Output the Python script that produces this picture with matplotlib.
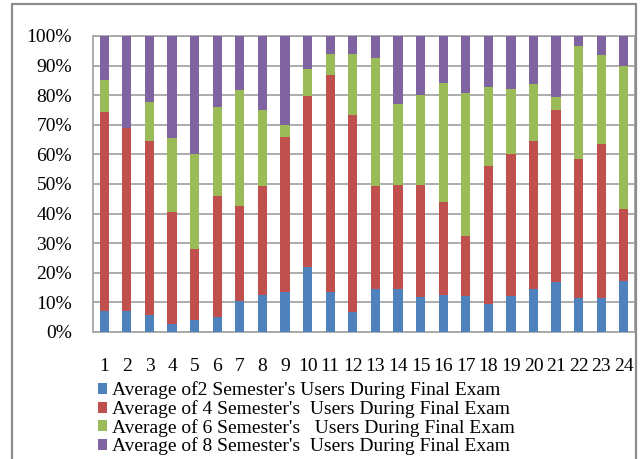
import matplotlib
matplotlib.use("Agg")
import matplotlib.pyplot as plt
from matplotlib.patches import Rectangle
import numpy as np

plt.rcParams['font.family'] = ['Liberation Serif', 'DejaVu Serif']

categories = [str(i) for i in range(1, 25)]

sem2 = [7.0, 7.0, 5.7, 2.8, 3.9, 5.1, 10.5, 12.5, 13.6, 21.8, 13.6, 6.6,
        14.4, 14.4, 11.7, 12.4, 12.2, 9.3, 12.2, 14.4, 16.8, 11.4, 11.4, 17.1]
sem4 = [67.3, 61.9, 58.8, 37.9, 24.3, 40.7, 32.2, 36.8, 52.2, 57.9, 73.2, 66.6,
        34.9, 35.3, 38.0, 31.4, 20.2, 46.7, 48.0, 50.1, 58.3, 46.9, 52.0, 24.3]
sem6 = [10.9, 0.0, 13.3, 25.0, 32.0, 30.1, 39.1, 25.8, 4.2, 9.0, 7.1, 20.7,
        43.4, 27.3, 30.5, 40.3, 48.2, 26.9, 21.9, 19.3, 4.2, 38.3, 30.1, 48.6]
sem8 = [14.8, 31.1, 22.2, 34.3, 39.8, 24.1, 18.2, 24.9, 30.0, 11.3, 6.1, 6.1,
        7.3, 23.0, 19.8, 15.9, 19.4, 17.1, 17.9, 16.2, 20.7, 3.4, 6.5, 10.0]

labels = [
    "Average of2 Semester's Users During Final Exam",
    "Average of 4 Semester's  Users During Final Exam",
    "Average of 6 Semester's   Users During Final Exam",
    "Average of 8 Semester's  Users During Final Exam",
]
colors = ["#4F81BD", "#C0504D", "#9BBB59", "#8064A2"]
y_ticks = [0, 10, 20, 30, 40, 50, 60, 70, 80, 90, 100]

fig = plt.figure(figsize=(6.43, 4.59), dpi=100)
ax = fig.add_axes([0.1446, 0.2767, 0.8432, 0.6449])

x = np.arange(1, len(categories) + 1)
series = np.array([sem2, sem4, sem6, sem8], dtype=float)
shares = series / series.sum(axis=0) * 100
bottom = np.zeros(len(categories))
handles = []
for vals, col, lab in zip(shares, colors, labels):
    h = ax.bar(x, vals, 0.41, bottom=bottom, color=col, label=lab, zorder=3)
    handles.append(h)
    bottom += vals

ax.set_xlim(0.5, len(categories) + 0.5)
ax.set_ylim(0, 100)
ax.set_yticks(y_ticks)
ax.set_yticklabels([f"{v}%" for v in y_ticks])
ax.set_xticks(x)
ax.set_xticklabels(categories)
ax.tick_params(axis='both', length=0, labelsize=14)
ax.tick_params(axis='y', pad=15)
ax.tick_params(axis='x', pad=19)
ax.grid(axis='y', color='#A6A6A6', linewidth=1.3, zorder=0)
for sp in ax.spines.values():
    sp.set_color('#A6A6A6')
    sp.set_linewidth(1.3)

fig.legend(handles=handles, labels=labels, loc='upper left',
           bbox_to_anchor=(0.152, 0.169), frameon=False, fontsize=14,
           handlelength=0.5, handleheight=0.5, handletextpad=0.25,
           labelspacing=0.04, borderaxespad=0, borderpad=0)

fig.patches.append(Rectangle((12 / 643, -0.02), 623.5 / 643, 1.02 - 4 / 459,
                             transform=fig.transFigure, fill=False,
                             edgecolor='#8C8C8C', linewidth=1.6))

fig.savefig("out.png", dpi=100)
